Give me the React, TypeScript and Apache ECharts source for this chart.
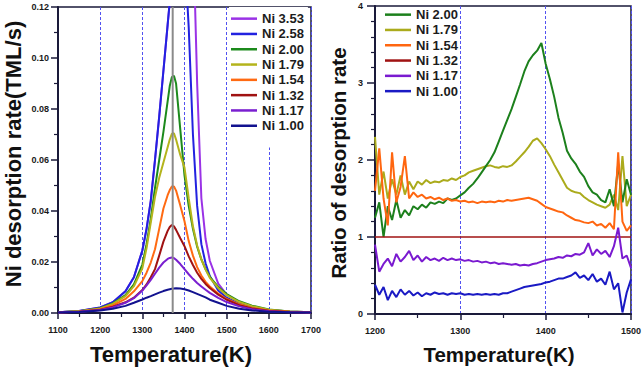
import React, { useEffect, useRef } from "react";
import * as echarts from "echarts";

const FONT = "'Liberation Sans', Arial, Helvetica, sans-serif";
const AXIS = "#1a1a3a";
const GRID_BLUE = "#5252f0";

// ---- Left panel: desorption rate vs temperature ----
const TEMPS = [
  1100, 1150, 1200, 1230, 1260, 1280, 1300, 1310, 1320, 1330, 1340, 1350, 1360, 1365, 1370, 1375,
  1380, 1390, 1400, 1410, 1420, 1430, 1440, 1450, 1460, 1480, 1500, 1530, 1560, 1600, 1650, 1700,
];

const RATE_353 = [
  0.0003, 0.0008, 0.0022, 0.0042, 0.0085, 0.014, 0.0245, 0.033, 0.044, 0.06, 0.077, 0.095, 0.113, 0.122, 0.131, 0.14,
  0.149, 0.168, 0.182, 0.18, 0.152, 0.09, 0.045, 0.029, 0.0205, 0.0115, 0.0072, 0.0042, 0.0025, 0.0012, 0.0006, 0.0003,
];
const RATE_258 = [
  0.0003, 0.0008, 0.0022, 0.0042, 0.0085, 0.014, 0.0245, 0.033, 0.044, 0.06, 0.077, 0.095, 0.113, 0.122, 0.131, 0.139,
  0.146, 0.152, 0.142, 0.112, 0.07, 0.042, 0.027, 0.0195, 0.0145, 0.0088, 0.006, 0.0036, 0.0022, 0.0011, 0.0005, 0.0003,
];
const RATE_200 = [
  0.0003, 0.0007, 0.0019, 0.0038, 0.007, 0.0112, 0.019, 0.027, 0.037, 0.049, 0.06, 0.071, 0.083, 0.089, 0.0925, 0.093,
  0.09, 0.072, 0.054, 0.042, 0.033, 0.026, 0.021, 0.0172, 0.0142, 0.0102, 0.0074, 0.0046, 0.0029, 0.0014, 0.0006, 0.0003,
];
const RATE_179 = [
  0.0003, 0.0007, 0.0018, 0.0036, 0.0066, 0.0105, 0.0175, 0.0255, 0.0355, 0.0455, 0.053, 0.059, 0.065, 0.068, 0.0703, 0.0705,
  0.068, 0.062, 0.057, 0.045, 0.034, 0.0265, 0.021, 0.017, 0.0138, 0.0098, 0.007, 0.0043, 0.0027, 0.0013, 0.0006, 0.0003,
];
const RATE_154 = [
  0.0002, 0.0006, 0.0015, 0.003, 0.0055, 0.0085, 0.0125, 0.0158, 0.0198, 0.025, 0.033, 0.041, 0.0462, 0.0482, 0.0496, 0.0496,
  0.048, 0.0422, 0.036, 0.0282, 0.0225, 0.018, 0.0147, 0.0122, 0.0104, 0.0076, 0.0055, 0.0034, 0.002, 0.001, 0.0005, 0.0003,
];
const RATE_132 = [
  0.0002, 0.0005, 0.0013, 0.0025, 0.0042, 0.006, 0.009, 0.0112, 0.014, 0.0172, 0.0225, 0.028, 0.0322, 0.0337, 0.0345, 0.034,
  0.0326, 0.0293, 0.0262, 0.0222, 0.0188, 0.0158, 0.0134, 0.0114, 0.0098, 0.0072, 0.0052, 0.0031, 0.0018, 0.0009, 0.0004, 0.0002,
];
const RATE_117 = [
  0.0002, 0.0005, 0.0012, 0.0022, 0.004, 0.0058, 0.0088, 0.0108, 0.013, 0.0154, 0.0178, 0.0198, 0.0212, 0.0216, 0.0218, 0.0215,
  0.0209, 0.0192, 0.0172, 0.0152, 0.0134, 0.0118, 0.0104, 0.0091, 0.0079, 0.0059, 0.0043, 0.0026, 0.0015, 0.0007, 0.0003, 0.0002,
];
const RATE_100 = [
  0.0002, 0.0004, 0.001, 0.0017, 0.0028, 0.004, 0.0053, 0.006, 0.0066, 0.0073, 0.008, 0.0086, 0.0091, 0.0093, 0.0095, 0.0096,
  0.0097, 0.0096, 0.0093, 0.0088, 0.0082, 0.0075, 0.0068, 0.0061, 0.0052, 0.004, 0.0028, 0.0017, 0.001, 0.0005, 0.0003, 0.0002,
];

const PEAK_T = 1372;

const LEFT_NAMES = ["Ni 3.53", "Ni 2.58", "Ni 2.00", "Ni 1.79", "Ni 1.54", "Ni 1.32", "Ni 1.17", "Ni 1.00"];
const LEFT_VALUES = [RATE_353, RATE_258, RATE_200, RATE_179, RATE_154, RATE_132, RATE_117, RATE_100];
const LEFT_COLORS = ["#9a32e6", "#2222e0", "#1c8a1c", "#b4b41c", "#ff6a12", "#a01212", "#7a1fd0", "#12128f"];

// ---- Right panel: ratio of desorption rates ----
const RATIO_T = [
  1200, 1205, 1210, 1215, 1220, 1225, 1230, 1235, 1240, 1245,
  1250, 1255, 1260, 1265, 1270, 1275, 1280, 1285, 1290, 1295,
  1300, 1305, 1310, 1315, 1320, 1325, 1330, 1335, 1340, 1345,
  1350, 1355, 1360, 1365, 1370, 1375, 1380, 1385, 1390, 1395,
  1400, 1405, 1410, 1415, 1420, 1425, 1430, 1435, 1440, 1445,
  1450, 1455, 1460, 1465, 1470, 1475, 1480, 1485, 1490, 1495, 1500,
];
const RATIO_200 = [
  1.25, 1.45, 1.0, 1.4, 1.22, 1.48, 1.25, 1.35, 1.28, 1.4,
  1.36, 1.42, 1.38, 1.45, 1.43, 1.46, 1.44, 1.5, 1.48, 1.5,
  1.54, 1.58, 1.64, 1.69, 1.76, 1.84, 1.92, 2.0, 2.1, 2.24,
  2.38, 2.52, 2.66, 2.82, 2.98, 3.15, 3.28, 3.36, 3.42, 3.52,
  3.25, 3.05, 2.82, 2.55, 2.35, 2.12, 2.02, 1.95, 1.85, 1.78,
  1.66, 1.58, 1.55, 1.48, 1.45, 1.62, 1.4, 1.95, 1.45, 1.75, 1.55,
];
const RATIO_179 = [
  2.3, 1.55, 1.85, 1.5, 1.75, 1.55, 1.8, 1.55, 1.72, 1.62,
  1.72, 1.68, 1.74, 1.7, 1.72, 1.71, 1.74, 1.73, 1.76, 1.74,
  1.78, 1.8, 1.84, 1.86, 1.88, 1.9, 1.92, 1.93, 1.91, 1.9,
  1.92, 1.91, 1.93, 1.98, 2.04, 2.1, 2.17, 2.25, 2.28, 2.22,
  2.14, 2.05, 1.94, 1.84, 1.74, 1.64, 1.6, 1.58, 1.57, 1.52,
  1.48, 1.45, 1.42, 1.4, 1.38, 1.42, 1.55, 1.35, 2.05, 1.4, 1.55,
];
const RATIO_154 = [
  1.6, 2.15, 1.5, 1.15, 2.1, 1.45, 1.65, 2.05, 1.5, 1.58,
  1.52, 1.55, 1.5, 1.52, 1.49, 1.51, 1.48, 1.5, 1.47, 1.48,
  1.46, 1.47, 1.45, 1.46, 1.44, 1.46, 1.45, 1.46, 1.45, 1.47,
  1.46, 1.48, 1.47, 1.48, 1.49, 1.5, 1.51, 1.49, 1.47, 1.43,
  1.39, 1.37, 1.35, 1.33, 1.32, 1.28, 1.25, 1.22, 1.21, 1.19,
  1.18, 1.2, 1.15, 1.17, 1.12, 1.18, 1.1, 2.1, 1.2, 1.08, 1.15,
];
const REF_T = [1200, 1500];
const RATIO_132 = [1.0, 1.0];
const RATIO_117 = [
  0.9, 0.55, 0.65, 0.72, 0.62, 0.78, 0.68, 0.74, 0.82, 0.7,
  0.76, 0.68, 0.74, 0.7, 0.72, 0.69, 0.73, 0.7, 0.72, 0.7,
  0.71, 0.69, 0.7, 0.68, 0.69, 0.67, 0.68, 0.66, 0.67, 0.65,
  0.66, 0.65, 0.64, 0.65, 0.63, 0.64, 0.63, 0.65, 0.66, 0.68,
  0.7, 0.71, 0.72, 0.74, 0.73, 0.76, 0.75, 0.78, 0.77, 0.8,
  0.92, 0.76, 0.84, 0.78, 0.82, 0.74, 0.88, 1.12, 0.72, 0.76, 0.6,
];
const RATIO_100 = [
  0.38, 0.25, 0.35, 0.18, 0.3, 0.22, 0.32, 0.25, 0.3, 0.24,
  0.28, 0.23, 0.27, 0.25, 0.28, 0.26, 0.27, 0.25, 0.27, 0.26,
  0.27, 0.25, 0.26, 0.25, 0.26, 0.25, 0.26, 0.25, 0.26, 0.25,
  0.27, 0.27, 0.29, 0.31, 0.33, 0.35, 0.36, 0.37, 0.38, 0.39,
  0.41, 0.42, 0.44, 0.46, 0.46, 0.48, 0.5, 0.54, 0.47, 0.5,
  0.44, 0.52, 0.42, 0.46, 0.38, 0.55, 0.32, 0.4, 0.02, 0.28, 0.45,
];

const RIGHT_NAMES = ["Ni 2.00", "Ni 1.79", "Ni 1.54", "Ni 1.32", "Ni 1.17", "Ni 1.00"];
const RIGHT_COLORS: Record<string, string> = {
  "Ni 2.00": "#1c801c",
  "Ni 1.79": "#abab1c",
  "Ni 1.54": "#ff6610",
  "Ni 1.32": "#a01212",
  "Ni 1.17": "#7a1ad0",
  "Ni 1.00": "#1a1ac4",
};

const pairs = (xs: number[], ys: number[]) => xs.map((x, i) => [x, ys[i]]);

const tickLabel = { fontFamily: FONT, fontSize: 9, fontWeight: "bold" as const, color: "#1a1a1a" };

function axis(gridIndex: number, min: number, max: number, interval: number, minorSplit: number, tickLen: number) {
  return {
    type: "value" as const,
    gridIndex,
    min,
    max,
    interval,
    axisLine: { show: true, onZero: false, lineStyle: { color: AXIS, width: 2 } },
    axisTick: { show: true, length: tickLen, lineStyle: { color: AXIS, width: 1.5 } },
    minorTick: { show: true, splitNumber: minorSplit, length: 4, lineStyle: { color: AXIS, width: 1.2 } },
    minorSplitLine: { show: false },
  };
}

function legendFor(names: string[], colors: string[], left: number, top: number, bg: string, padding: number[], textGap: number) {
  return {
    orient: "vertical" as const,
    left,
    top,
    backgroundColor: bg,
    padding,
    icon: "rect",
    itemWidth: 26,
    itemHeight: 2.5,
    itemGap: 0,
    itemTextGap: textGap,
    selectedMode: false,
    textStyle: { fontFamily: FONT, fontSize: 13, fontWeight: "bold" as const, color: "#1c1c1c", lineHeight: 15.3 },
    data: names.map((name, i) => ({ name, itemStyle: { color: colors[i] }, lineStyle: { color: colors[i] } })),
  };
}

function titleText(text: string, x: number, y: number, size: number, vertical: boolean) {
  return {
    type: "text" as const,
    x,
    y,
    rotation: vertical ? Math.PI / 2 : 0,
    style: {
      text,
      fontFamily: FONT,
      fontSize: size,
      fontWeight: "bold",
      fill: "#111",
      align: "center",
      verticalAlign: "middle",
    },
  };
}

function buildOption() {
  const leftLines = LEFT_NAMES.map((name, i) => ({
    name,
    type: "line" as const,
    xAxisIndex: 0,
    yAxisIndex: 0,
    data: pairs(TEMPS, LEFT_VALUES[i]),
    showSymbol: false,
    symbol: "none",
    lineStyle: { color: LEFT_COLORS[i], width: 2 },
    itemStyle: { color: LEFT_COLORS[i] },
    silent: true,
  }));

  const ratioSeries: [string, number[], number[], number][] = [
    ["Ni 1.79", RATIO_T, RATIO_179, 2],
    ["Ni 2.00", RATIO_T, RATIO_200, 2],
    ["Ni 1.54", RATIO_T, RATIO_154, 2],
    ["Ni 1.32", REF_T, RATIO_132, 1.5],
    ["Ni 1.17", RATIO_T, RATIO_117, 2],
    ["Ni 1.00", RATIO_T, RATIO_100, 2],
  ];
  const rightLines = ratioSeries.map(([name, xs, ys, w]) => ({
    name,
    type: "line" as const,
    xAxisIndex: 1,
    yAxisIndex: 1,
    data: pairs(xs, ys),
    showSymbol: false,
    symbol: "none",
    lineStyle: { color: RIGHT_COLORS[name], width: w },
    itemStyle: { color: RIGHT_COLORS[name] },
    silent: true,
  }));

  const splitBlue = { show: true, lineStyle: { color: GRID_BLUE, width: 1, type: [3, 2] } };

  return {
    animation: false,
    grid: [
      { left: 58, top: 7, width: 253, height: 306, show: true, borderColor: AXIS, borderWidth: 1.5, backgroundColor: "transparent" },
      { left: 375, top: 6, width: 264, height: 308, show: true, borderColor: AXIS, borderWidth: 1.5, backgroundColor: "transparent" },
    ],
    xAxis: [
      {
        ...axis(0, 1100, 1700, 100, 2, 6),
        axisLabel: { ...tickLabel, margin: 12, formatter: (v: number) => String(v) },
        splitLine: splitBlue,
      },
      {
        ...axis(1, 1200, 1500, 100, 2, 6),
        axisLabel: { ...tickLabel, margin: 12, formatter: (v: number) => String(v) },
        splitLine: splitBlue,
      },
    ],
    yAxis: [
      {
        ...axis(0, 0, 0.12, 0.02, 2, 7),
        axisLabel: { ...tickLabel, margin: 9, formatter: (v: number) => v.toFixed(2) },
        splitLine: { show: false },
      },
      {
        ...axis(1, 0, 4, 1, 5, 8),
        axisLabel: { ...tickLabel, margin: 12, formatter: (v: number) => String(v) },
        splitLine: { show: false },
      },
    ],
    legend: [
      legendFor(LEFT_NAMES, LEFT_COLORS, 229, 7, "#ffffff", [4, 4, 14, 2], 5),
      legendFor(RIGHT_NAMES, RIGHT_NAMES.map((n) => RIGHT_COLORS[n]), 385, 7, "transparent", [0, 0, 0, 0], 6),
    ],
    graphic: [
      titleText("Ni desorption rate(TML/s)", 13.5, 154, 22, true),
      titleText("Temperature(K)", 171, 354.5, 22, false),
      titleText("Ratio of desorption rate", 338, 163, 20.5, true),
      titleText("Temperature(K)", 499, 354.5, 20.5, false),
    ],
    series: [
      ...leftLines,
      {
        name: "peak",
        type: "line" as const,
        xAxisIndex: 0,
        yAxisIndex: 0,
        data: [[PEAK_T, 0], [PEAK_T, 0.12]],
        showSymbol: false,
        symbol: "none",
        lineStyle: { color: "#8a8a8a", width: 2 },
        z: 5,
        silent: true,
      },
      ...rightLines,
    ],
  };
}

export default function App() {
  const ref = useRef<HTMLDivElement>(null);

  useEffect(() => {
    if (!ref.current) return;
    const chart = echarts.init(ref.current, undefined, { renderer: "svg" });
    chart.setOption(buildOption() as any);
    return () => {
      chart.dispose();
    };
  }, []);

  return (
    <div style={{ position: "fixed", left: 0, top: 0, width: 644, height: 370, background: "#ffffff", overflow: "hidden" }}>
      <div ref={ref} style={{ width: 644, height: 370 }} />
    </div>
  );
}
